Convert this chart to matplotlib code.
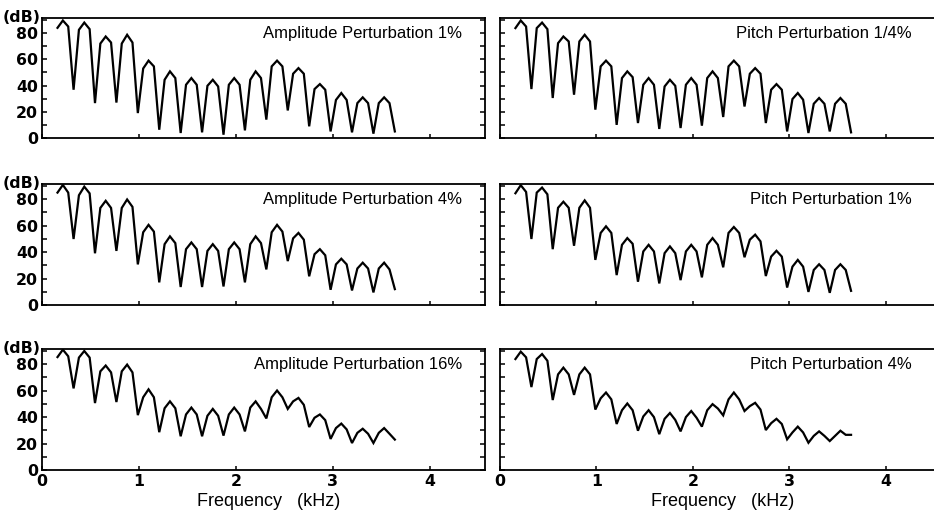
import numpy as np
import matplotlib
matplotlib.use("Agg")
import matplotlib.pyplot as plt
from matplotlib.ticker import MultipleLocator

plt.rcParams["font.family"] = ["Liberation Sans", "DejaVu Sans"]

# spectrum sample grid (kHz), same for all panels
freq_khz = np.linspace(0.16, 3.64, 64)

amp_1 = [84.0,
         89.6, 85.0, 36.8, 82.5, 88.0, 83.0, 26.6, 72.0, 77.4, 72.8, 27.0, 72.0,
         78.7, 72.8, 19.0, 53.0, 59.0, 54.6, 6.3, 44.4, 50.8, 45.7, 3.8, 40.6,
         45.7, 40.6, 4.3, 39.8, 44.4, 39.3, 2.5, 40.6, 45.7, 40.6, 5.8, 44.4,
         50.8, 45.7, 14.0, 54.6, 59.0, 54.6, 21.0, 49.0, 53.3, 49.0, 8.9, 37.3,
         41.1, 36.8, 5.0, 29.0, 34.3, 29.0, 4.3, 26.6, 31.0, 26.6, 3.3, 26.6,
         31.0, 26.6, 5.0]
amp_4 = [85.0,
         90.8, 85.0, 49.9, 83.0, 89.5, 84.4, 39.1, 73.4, 78.8, 73.4, 40.9, 73.4,
         79.8, 74.2, 30.7, 55.0, 60.6, 55.5, 17.1, 46.0, 51.9, 46.8, 13.6, 42.2,
         47.3, 42.2, 13.6, 40.9, 46.0, 40.9, 14.0, 42.2, 47.3, 42.2, 17.1, 46.0,
         51.9, 46.8, 26.9, 55.0, 60.6, 55.5, 33.2, 50.4, 54.5, 49.4, 21.7, 38.4,
         42.2, 37.6, 11.5, 30.7, 35.0, 30.7, 11.0, 27.6, 32.0, 27.6, 9.5, 27.6,
         32.0, 26.9, 12.0]
amp_16 = [85.4,
          91.0, 86.0, 61.7, 85.0, 90.0, 85.0, 50.6, 74.6, 79.0, 73.8, 51.4, 74.6,
          79.7, 73.8, 41.5, 55.0, 61.0, 55.0, 28.6, 46.7, 51.9, 46.7, 25.5, 42.0,
          47.2, 42.0, 25.5, 41.0, 46.2, 41.0, 26.0, 42.0, 47.2, 42.0, 29.2, 47.2,
          51.9, 46.2, 39.0, 55.0, 60.1, 55.0, 46.2, 51.9, 54.5, 49.3, 32.5, 39.5,
          42.0, 37.7, 23.5, 31.7, 35.1, 30.7, 20.4, 28.1, 31.2, 27.4, 20.4, 28.1,
          31.7, 27.4, 23.0]
pitch_q = [83.8,
           89.6, 85.0, 37.3, 83.8, 88.0, 83.0, 30.5, 72.3, 77.4, 73.6, 33.0, 73.6,
           78.7, 73.6, 21.6, 54.6, 59.0, 54.6, 10.0, 45.7, 50.8, 46.4, 11.4, 40.6,
           45.7, 40.6, 6.9, 39.3, 44.4, 39.8, 7.6, 40.6, 45.7, 40.6, 9.4, 45.7,
           50.8, 45.7, 16.0, 54.6, 59.0, 54.6, 24.0, 49.0, 53.3, 49.0, 11.4, 36.8,
           41.1, 36.8, 5.0, 29.7, 34.3, 29.2, 3.8, 26.1, 30.5, 26.1, 5.0, 26.1,
           30.5, 26.1, 4.3]
pitch_1 = [84.5,
           90.6, 85.5, 49.9, 85.0, 88.8, 83.7, 42.2, 73.5, 78.1, 73.5, 44.8, 73.5,
           79.1, 73.5, 34.1, 54.5, 59.5, 54.5, 22.6, 45.5, 50.6, 46.3, 17.6, 40.5,
           45.5, 40.5, 16.3, 39.2, 44.3, 39.2, 18.8, 40.5, 45.5, 40.5, 20.9, 45.5,
           50.6, 45.5, 28.5, 54.5, 59.0, 54.5, 36.1, 49.4, 53.2, 48.1, 21.9, 36.6,
           41.0, 36.6, 13.2, 29.0, 34.1, 29.0, 9.9, 26.5, 30.8, 26.5, 9.2, 26.5,
           30.8, 26.5, 10.7]
pitch_4 = [83.9,
           89.5, 85.2, 62.7, 83.9, 87.7, 82.6, 52.9, 72.3, 77.4, 72.3, 56.8, 72.3,
           77.4, 72.3, 45.7, 54.2, 58.6, 53.4, 34.8, 45.2, 50.3, 45.2, 29.7, 40.5,
           45.2, 40.0, 27.1, 38.7, 43.1, 37.9, 29.2, 40.0, 44.6, 39.5, 32.8, 45.2,
           49.8, 46.5, 41.3, 53.4, 58.6, 53.4, 44.6, 48.3, 50.8, 45.7, 30.2, 35.4,
           38.7, 34.8, 23.2, 28.4, 32.8, 28.4, 20.6, 25.8, 29.2, 25.8, 21.9, 25.8,
           29.7, 26.6, 26.6]

panel_titles = [["Amplitude Perturbation 1%", "Pitch Perturbation 1/4%"],
                ["Amplitude Perturbation 4%", "Pitch Perturbation 1%"],
                ["Amplitude Perturbation 16%", "Pitch Perturbation 4%"]]
panel_data = [[amp_1, pitch_q], [amp_4, pitch_1], [amp_16, pitch_4]]

y_ticks = [0, 20, 40, 60, 80]
x_ticks = [0, 1, 2, 3, 4]

# tick numbers are wide and heavy in the scan
num_font = dict(family="DejaVu Sans", weight="bold", size=11.3)

W, H = 934, 514
fig = plt.figure(figsize=(W / 100, H / 100), dpi=100)

cols = [(42, 485, 4.57), (500, 934, 4.50)]   # left px, right px, xmax
rows = [(18, 138), (184, 305), (349, 470)]   # top px, bottom px

for r, (top, bot) in enumerate(rows):
    for c, (lft, rgt, xmax) in enumerate(cols):
        ax = fig.add_axes([lft / W, 1 - bot / H, (rgt - lft) / W, (bot - top) / H])
        ax.plot(freq_khz, panel_data[r][c], color="black", lw=1.6,
                solid_joinstyle="miter")
        ax.set_xlim(0, xmax)
        ax.set_ylim(0, 91.5)
        ax.set_yticks(y_ticks)
        ax.yaxis.set_minor_locator(MultipleLocator(10))
        ax.set_xticks(x_ticks)
        ax.tick_params(axis="both", which="both", direction="in",
                       pad=3, width=1.1)
        ax.tick_params(axis="y", which="both", length=3.5,
                       left=True, right=(c == 0))
        ax.tick_params(axis="x", length=3)
        for sp in ax.spines.values():
            sp.set_linewidth(1.3)
        if c == 1:
            ax.spines["right"].set_visible(False)
            ax.set_yticklabels([])
        else:
            ax.set_yticklabels([str(v) for v in y_ticks], fontdict=num_font)
            ax.text(-0.004, 1.008, "(dB)", transform=ax.transAxes,
                    ha="right", va="center", **num_font)
        if r < 2:
            ax.set_xticklabels([])
        else:
            ax.set_xticklabels([str(v) for v in x_ticks], fontdict=num_font)
            ax.set_xlabel("Frequency   (kHz)", fontsize=13, labelpad=0)
            ax.xaxis.set_label_coords(0.512, -0.19)
        ax.text(0.948, 0.87, panel_titles[r][c], transform=ax.transAxes,
                ha="right", va="center", fontsize=12)

fig.savefig("out.png", dpi=100)
